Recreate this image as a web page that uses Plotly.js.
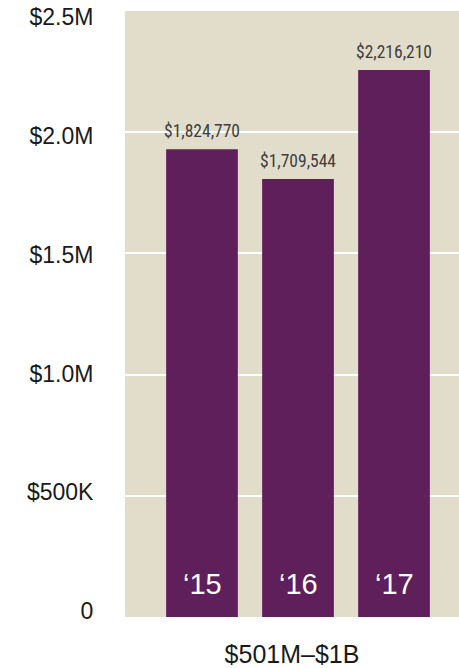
<!DOCTYPE html>
<html>
<head>
<meta charset="utf-8">
<script src="https://cdn.plot.ly/plotly-3.0.1.min.js"></script>
<style>html,body{margin:0;padding:0;background:#fff;}#chart{width:459px;height:668px;}</style>
</head>
<body>
<div id="chart"></div>
<script>
// Categories (year labels shown inside bars)
const yearLabels = ['\u201815', '\u201816', '\u201817'];
// Bar heights as drawn in the picture
const barHeights = [1930000, 1807000, 2257000];
// Values printed above the bars
const labelValues = [1824770, 1709544, 2216210];
// Y tick labels
const yTickVals = [0, 500000, 1000000, 1500000, 2000000, 2500000];
const yTickText = ['0', '$500K', '$1.0M', '$1.5M', '$2.0M', '$2.5M'];
const gridVals = [500000, 1000000, 1500000, 2000000];
// Group (x axis) label
const groupLabel = '$501M\u2013$1B';

const labelTexts = labelValues.map(v => '$' + v.toLocaleString('en-US'));

const barTrace = {
  type: 'bar',
  x: yearLabels,
  y: barHeights,
  width: 0.747,
  marker: {color: '#5F1F5A'},
  hoverinfo: 'skip',
  showlegend: false
};

const dummy = {type: 'scatter', x: [], y: [], yaxis: 'y2', showlegend: false, hoverinfo: 'skip'};

const yearAnn = yearLabels.map(lbl => ({
  x: lbl, y: 0, xref: 'x', yref: 'y',
  yanchor: 'bottom', yshift: 15,
  text: lbl, showarrow: false,
  font: {family: '"Liberation Sans", Arial, sans-serif', size: 29, color: '#ffffff'}
}));

const valueAnn = yearLabels.map((lbl, i) => ({
  x: lbl, y: barHeights[i], xref: 'x', yref: 'y',
  yanchor: 'bottom', yshift: 6,
  text: labelTexts[i], showarrow: false,
  font: {family: '"Roboto Condensed", "DejaVu Sans Condensed", sans-serif', size: 17.5, color: '#3d3d3d'}
}));

const layout = {
  width: 459, height: 668,
  margin: {l: 125, r: 0, t: 11, b: 51},
  paper_bgcolor: '#ffffff',
  plot_bgcolor: '#E2DDCB',
  showlegend: false,
  xaxis: {
    type: 'category',
    range: [-0.802, 2.677],
    showticklabels: false, showgrid: false, zeroline: false, ticks: '',
    fixedrange: true,
    title: {text: groupLabel, standoff: 29,
      font: {family: '"Liberation Sans", Arial, sans-serif', size: 25, color: '#1a1a1a'}}
  },
  yaxis: {
    range: [0, 2500000],
    tickvals: gridVals,
    showticklabels: false,
    showgrid: true, gridcolor: '#ffffff', gridwidth: 2,
    zeroline: false, ticks: '', fixedrange: true
  },
  yaxis2: {
    overlaying: 'y', side: 'left',
    range: [-24000, 2524000],
    tickvals: yTickVals, ticktext: yTickText,
    showgrid: false, zeroline: false,
    ticks: 'outside', ticklen: 26, tickcolor: 'rgba(0,0,0,0)',
    tickfont: {family: '"Liberation Sans", Arial, sans-serif', size: 23, color: '#1a1a1a'},
    fixedrange: true
  },
  annotations: yearAnn.concat(valueAnn)
};

Plotly.newPlot('chart', [barTrace, dummy], layout, {staticPlot: true, displayModeBar: false});
</script>
</body>
</html>
